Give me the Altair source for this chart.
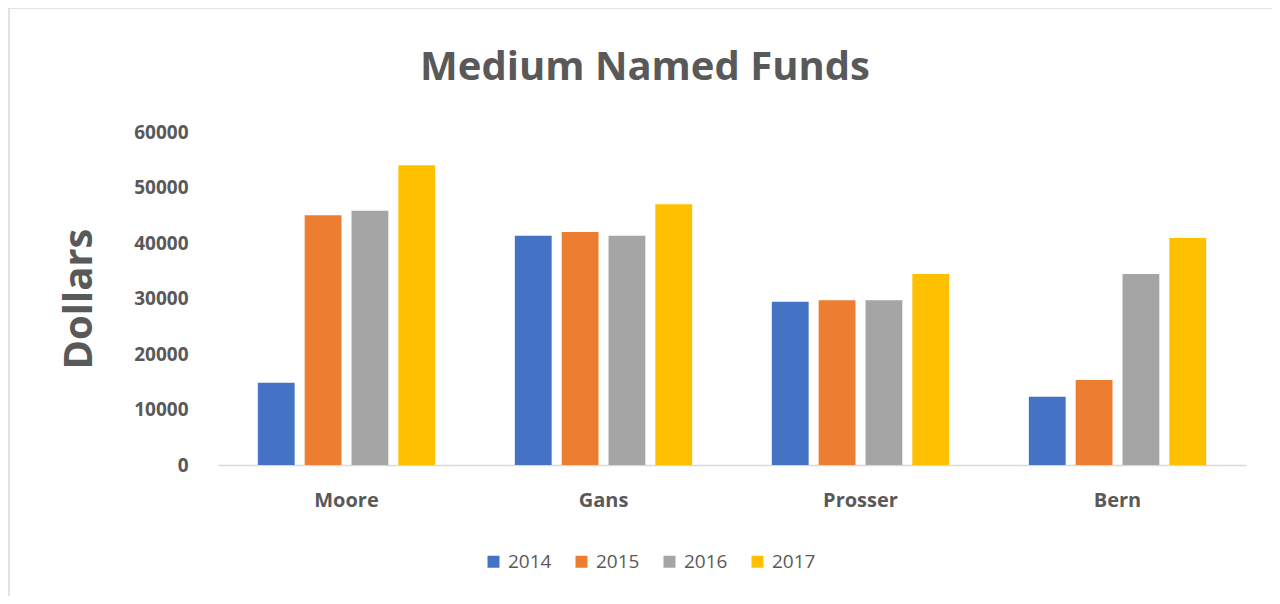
import altair as alt
import pandas as pd

funds = ["Moore", "Gans", "Prosser", "Bern"]
years = ["2014", "2015", "2016", "2017"]
v2014 = [14800, 41300, 29400, 12300]
v2015 = [45000, 42000, 29700, 15300]
v2016 = [45800, 41300, 29700, 34400]
v2017 = [54000, 47000, 34400, 40900]
colors = ["#4472C4", "#ED7D31", "#A5A5A5", "#FFC000"]
title_text = "Medium Named Funds"

rows = []
for series, yr in zip([v2014, v2015, v2016, v2017], years):
    for f, v in zip(funds, series):
        rows.append({"Fund": f, "Year": yr, "Dollars": v})
df = pd.DataFrame(rows)

FONT = "Open Sans"
GREY = "#595959"

bars = alt.Chart(df).mark_bar().encode(
    x=alt.X("Fund:N", sort=funds,
            scale=alt.Scale(paddingInner=0.31, paddingOuter=0.155),
            axis=alt.Axis(title=None, labelAngle=0, labelFont=FONT, labelFontSize=20,
                          labelFontWeight="bold", labelColor=GREY, labelPadding=25,
                          ticks=False, domainColor="#D9D9D9", domainWidth=1.5)),
    xOffset=alt.XOffset("Year:N", sort=years,
                        scale=alt.Scale(paddingInner=0.214, paddingOuter=0)),
    y=alt.Y("Dollars:Q", scale=alt.Scale(domain=[0, 60000]),
            axis=alt.Axis(values=[0, 10000, 20000, 30000, 40000, 50000, 60000],
                          format="d", grid=False, domain=False, ticks=False,
                          labelFont=FONT, labelFontSize=19, labelFontWeight="bold",
                          labelColor=GREY, labelPadding=30,
                          title="Dollars", titleFont=FONT, titleFontSize=40,
                          titleFontWeight="bold", titleColor=GREY, titlePadding=34)),
    color=alt.Color("Year:N", sort=years,
                    scale=alt.Scale(domain=years, range=colors),
                    legend=alt.Legend(title=None, orient="none", direction="horizontal",
                                      legendX=266, legendY=420,
                                      symbolType="square", symbolSize=144,
                                      symbolStrokeWidth=0, symbolOffset=0,
                                      labelFont=FONT, labelFontSize=19, labelColor=GREY,
                                      labelOffset=5, columnPadding=20)),
)

border = alt.Chart(alt.Data(values=[{}])).mark_rect(
    fill=None, stroke="#D9D9D9", strokeWidth=1.5
).encode(
    x=alt.value(-209), x2=alt.value(1058), y=alt.value(-124), y2=alt.value(472)
)

title = alt.Chart(alt.Data(values=[{"t": title_text}])).mark_text(
    font=FONT, fontSize=40, fontWeight="bold", color=GREY,
    align="center", baseline="alphabetic"
).encode(
    text="t:N", x=alt.value(427), y=alt.value(-52)
)

chart = alt.layer(border, title, bars).properties(
    width=1028, height=333,
    autosize=alt.AutoSizeParams(type="none"),
    padding={"left": 210, "top": 124, "right": 26, "bottom": 131},
).configure_view(stroke=None)

chart.save("out.html", embed_options={"renderer": "svg", "actions": False})
